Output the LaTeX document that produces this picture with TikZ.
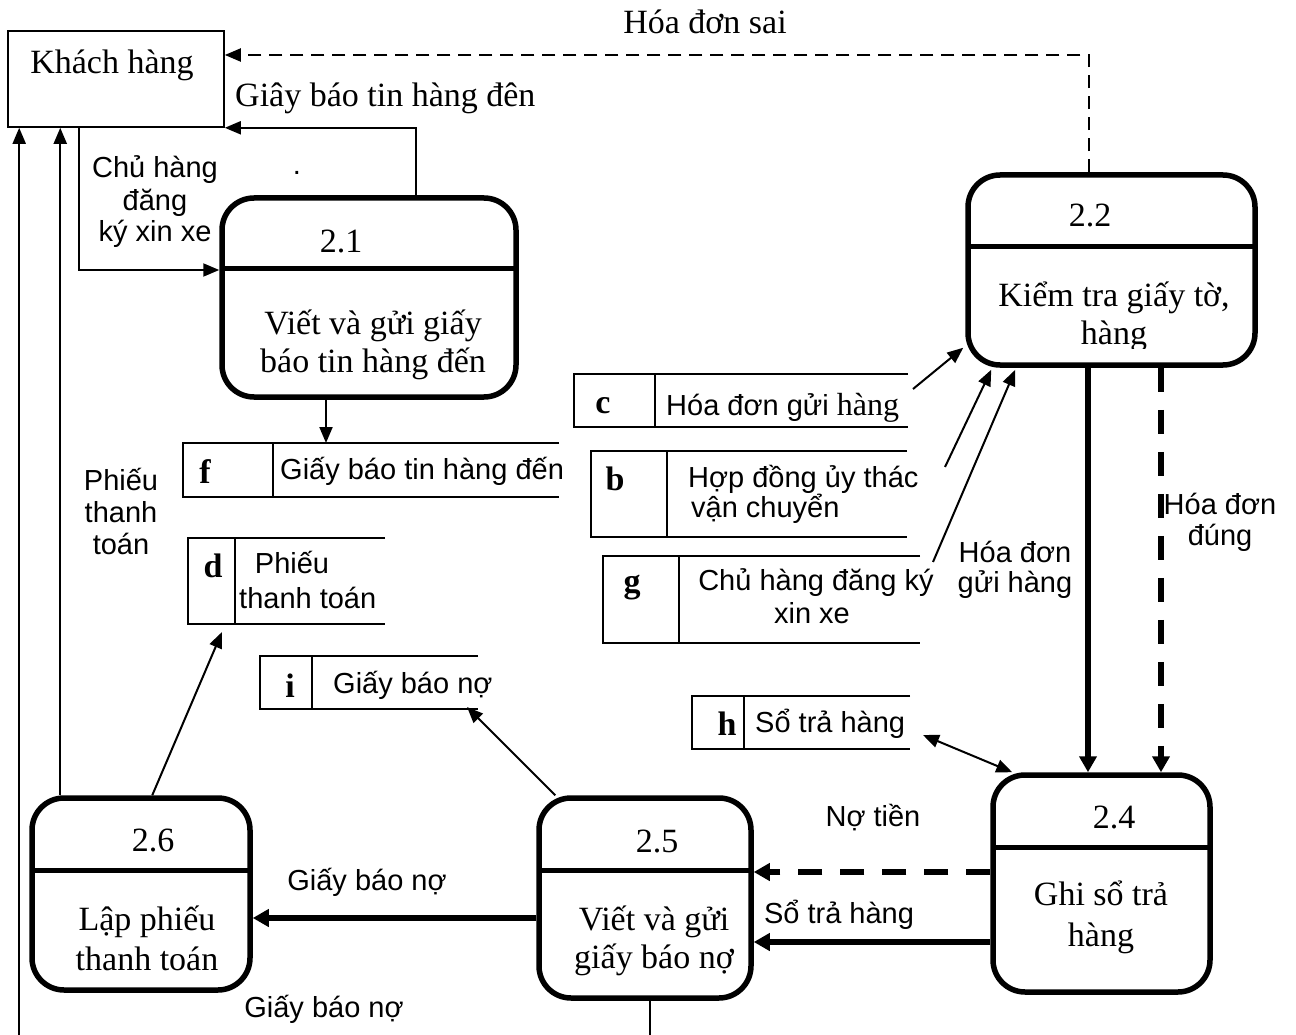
\documentclass[tikz,border=0pt]{standalone}
\usepackage{fontspec}
\setmainfont{Liberation Serif}
\setsansfont{Liberation Sans}
\usetikzlibrary{arrows.meta}

\tikzset{
  proc/.style={draw, line width=5.5pt, rounded corners=32pt, inner sep=0pt},
  procline/.style={line width=5pt},
  entity/.style={draw, line width=1.6pt, inner sep=0pt},
  ptext/.style={font=\fontsize{34}{38}\selectfont, inner sep=0pt, align=center, anchor=base},
  stext/.style={font=\sffamily\fontsize{29}{32}\selectfont, inner sep=0pt, align=center, anchor=base},
  letter/.style={font=\bfseries\fontsize{34}{38}\selectfont, inner sep=0pt, anchor=base},
  store/.style={inner sep=0pt, outer sep=0pt},
  storeline/.style={line width=2.2pt},
  flow/.style={line width=2pt, -{Triangle[length=16pt,width=13pt]}},
  bothflow/.style={line width=2pt, {Triangle[length=16pt,width=13pt]}-{Triangle[length=16pt,width=13pt]}},
  thinflowdash/.style={flow, dash pattern=on 13pt off 8pt},
  bigflow/.style={line width=5.5pt, -{Triangle[length=16pt,width=17pt]}},
  bigflowdash/.style={bigflow, dash pattern=on 24pt off 18pt},
}

% open-ended data store: top, left and bottom sides plus the id divider
\newcommand{\dfdstore}[2]{%
  \draw[storeline] (#1.north east) -- (#1.north west) -- (#1.south west) -- (#1.south east);
  \draw[storeline] ([xshift=#2]#1.north west) -- ([xshift=#2]#1.south west);
}

\begin{document}
\begin{tikzpicture}[x=1pt,y=-1pt]
\fill[white] (0,0) rectangle (1296,1035);
\useasboundingbox (0,0) rectangle (1296,1035);

% ---- external entity
\node[entity, minimum width=216pt, minimum height=96pt] (kh) at (116,79) {};
\node[ptext] (khT) at (112,74) {Khách hàng};

% ---- processes (multi-line texts are placed by the baseline of their last line)
\node[proc, minimum width=294pt, minimum height=199pt] (p21) at (369,297.5) {};
\draw[procline] (222,268) -- (516,268);
\node[ptext] (n21) at (341,253) {2.1};
\node[ptext] (t21) at (373,372) {Viết và gửi giấy\\báo tin hàng đến};

\node[proc, minimum width=287pt, minimum height=190pt] (p22) at (1111.5,270) {};
\draw[procline] (968,247) -- (1255,247);
\node[ptext] (n22) at (1090,227) {2.2};
\begin{scope}
  \clip (971,252) rectangle (1252,348);
  \node[ptext] (t22) at (1114,344) {Kiểm tra giấy tờ,\\hàng};
\end{scope}

\node[proc, minimum width=217pt, minimum height=217pt] (p24) at (1101.5,883.5) {};
\draw[procline] (993,847) -- (1210,847);
\node[ptext] (n24) at (1114,828) {2.4};
\node[ptext, font=\fontsize{34}{41}\selectfont] (t24) at (1101,946) {Ghi sổ trả\\hàng};

\node[proc, minimum width=212pt, minimum height=200pt] (p25) at (645,898) {};
\draw[procline] (539,870) -- (751,870);
\node[ptext] (n25) at (657,852) {2.5};
\node[ptext] (t25) at (654,968) {Viết và gửi\\giấy báo nợ};

\node[proc, minimum width=218pt, minimum height=192pt] (p26) at (141,894) {};
\draw[procline] (32,870) -- (250,870);
\node[ptext] (n26) at (153,851) {2.6};
\node[ptext, font=\fontsize{34}{40}\selectfont] (t26) at (147,970) {Lập phiếu\\thanh toán};

% ---- data stores
\node[store, minimum width=376pt, minimum height=54pt] (sf) at (371,470) {};
\dfdstore{sf}{90pt}
\node[letter] (lf) at (205,483) {f};
\node[stext, anchor=base west] (tf) at (280,479) {Giấy báo tin hàng đến};

\node[store, minimum width=197pt, minimum height=86pt] (sd) at (286.5,581) {};
\dfdstore{sd}{47pt}
\node[letter] (ld) at (213,577) {d};
\node[stext] (td1) at (292,573) {Phiếu};
\node[stext, anchor=base west] (td2) at (239,608) {thanh toán};

\node[store, minimum width=218pt, minimum height=53pt] (si) at (369,682.5) {};
\dfdstore{si}{52pt}
\node[letter] (li) at (290,697) {i};
\node[stext, anchor=base west] (ti) at (333,693) {Giấy báo nợ};

\node[store, minimum width=334pt, minimum height=53pt] (sc) at (741,400.5) {};
\dfdstore{sc}{81pt}
\node[letter] (lc) at (603,413) {c};
\node[stext, anchor=base west] (tc) at (666,415) {Hóa đơn gửi {\rmfamily\fontsize{32}{36}\selectfont hàng}};

\node[store, minimum width=316pt, minimum height=86pt] (sb) at (749,494) {};
\dfdstore{sb}{76pt}
\node[letter] (lb) at (615,490) {b};
\node[stext, anchor=base west] (tb1) at (688,487) {Hợp đồng ủy thác};
\node[stext, anchor=base west] (tb2) at (691,517) {vận chuyển};

\node[store, minimum width=317pt, minimum height=87pt] (sg) at (761.5,599.5) {};
\dfdstore{sg}{76pt}
\node[letter] (lg) at (632,592) {g};
\node[stext] (tg1) at (816,590) {Chủ hàng đăng ký};
\node[stext] (tg2) at (812,623) {xin xe};

\node[store, minimum width=218pt, minimum height=53pt] (sh) at (801,722.5) {};
\dfdstore{sh}{52pt}
\node[letter] (lh) at (727,735) {h};
\node[stext, anchor=base west] (th) at (755,732) {Sổ trả hàng};

% ---- free ends of the store connectors
\coordinate (cEnd) at (913,389);
\coordinate (bEnd) at (945,467);
\coordinate (gEnd) at (933,562);
\coordinate (hEnd) at (923,735);

% ---- flows
\draw[flow] ([xshift=72pt]kh.south west) |- (p21.west |- 0,270);
\node[stext] (chuT) at (155,242) {Chủ hàng\\đăng\\ký xin xe};
\node[stext] (dotT) at (297,175) {.};

\draw[flow] ([xshift=47pt]p21.north) |- (kh.south east);
\node[ptext, anchor=base west] (gbt) at (235,107) {Giây báo tin hàng đên};

\draw[thinflowdash] ([xshift=-22.5pt]p22.north) |- (kh.east |- 0,55);
\node[ptext] (sai) at (705,34) {Hóa đơn sai};

\draw[flow] ([xshift=-43pt]p21.south) -- ([xshift=-43pt]p21.south |- sf.north);

\draw[flow] (cEnd) -- ([xshift=-2pt,yshift=20pt]p22.south west);
\draw[flow] (bEnd) -- ([xshift=26pt,yshift=-2pt]p22.south west);
\draw[flow] (gEnd) -- ([xshift=50pt,yshift=-2pt]p22.south west);

\draw[bigflow] ([xshift=-23.5pt]p22.south) -- ([xshift=-23.5pt]p22.south |- p24.north);
\draw[bigflowdash] ([xshift=49.5pt]p22.south) -- ([xshift=49.5pt]p22.south |- p24.north);
\node[stext, font=\sffamily\fontsize{29}{30}\selectfont] (hdgh) at (1015,592) {Hóa đơn\\gửi hàng};
\node[stext, font=\sffamily\fontsize{29}{31}\selectfont] (hdd) at (1220,545) {Hóa đơn\\đúng};

\draw[bothflow] (hEnd) -- ([xshift=22pt,yshift=0pt]p24.north west);

\draw[bigflowdash] (p24.west |- 0,872) -- (p25.east |- 0,872);
\node[stext] (notien) at (873,826) {Nợ tiền};
\draw[bigflow] (p24.west |- 0,942) -- (p25.east |- 0,942);
\node[stext] (sth) at (839,923) {Sổ trả hàng};

\draw[bigflow] (p25.west |- 0,918) -- (p26.east |- 0,918);
\node[stext] (gbn1) at (367,890) {Giấy báo nợ};

\draw[flow] ([xshift=19pt]p25.north west) -- ([xshift=207pt,yshift=2pt]si.south west);
\draw[flow] ([xshift=123pt]p26.north west) -- ([xshift=34pt,yshift=-8pt]sd.south west);

\draw[flow] ([xshift=31pt]p26.north west) -- ([xshift=31pt]p26.north west |- kh.south);
\draw[flow] ([xshift=5pt]p25.south) -- ++(0,42) -| ([xshift=12pt]kh.south west);
\node[stext] (gbn2) at (324,1017) {Giấy báo nợ};
\node[stext] (pttT) at (121,554) {Phiếu\\thanh\\toán};

\end{tikzpicture}
\end{document}
